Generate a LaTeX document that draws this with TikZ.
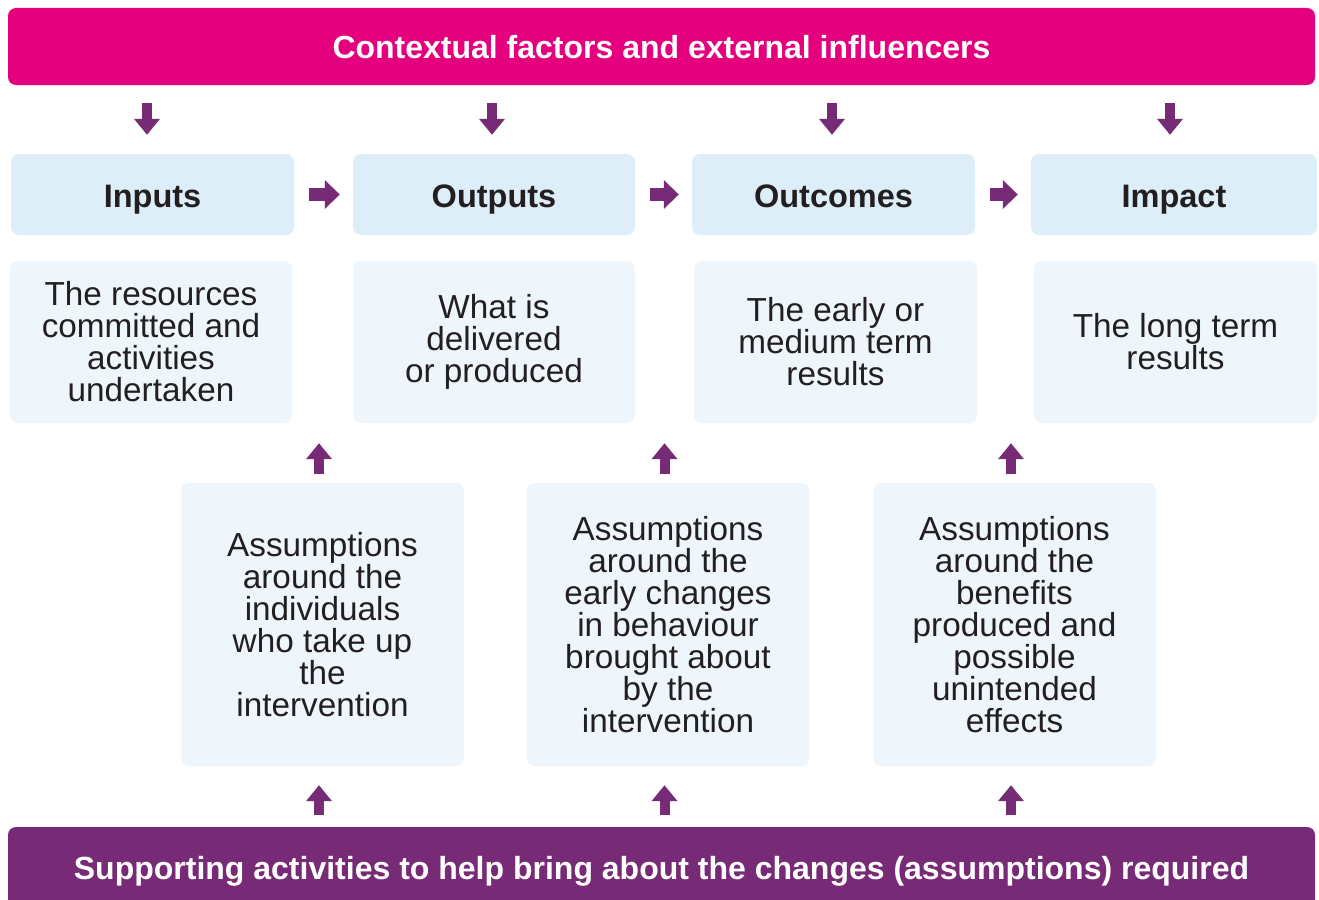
\documentclass[tikz,border=0pt]{standalone}
\usepackage{fontspec}
\setmainfont{Liberation Sans}
\usetikzlibrary{arrows.meta,calc}
\definecolor{pinkbar}{HTML}{E5007D}
\definecolor{purp}{HTML}{772A75}
\definecolor{hdrblue}{HTML}{DDEEF9}
\definecolor{descblue}{HTML}{EEF6FC}
\definecolor{ink}{HTML}{231F20}
\begin{document}
\begin{tikzpicture}[x=1pt,y=-1pt,
 bar/.style={rounded corners=8pt, minimum width=1307pt, text=white, font=\fontsize{32}{32}\selectfont\bfseries, inner sep=0pt, text depth=0pt},
 hdr/.style={fill=hdrblue, rounded corners=8pt, minimum height=81pt, text=ink, font=\fontsize{32.5}{32}\selectfont\bfseries, inner sep=0pt, text height=26.4pt, text depth=0pt},
 desc/.style={fill=descblue, rounded corners=8pt, minimum height=162pt, text=ink, align=center, font=\fontsize{33.3}{32}\selectfont, inner sep=0pt},
 asm/.style={fill=descblue, rounded corners=8pt, minimum width=283pt, minimum height=283pt, text=ink, align=center, font=\fontsize{33.3}{32}\selectfont, inner sep=0pt},
 barrow/.style={draw=purp, line width=10pt, -{Triangle[length=16pt,width=25pt]}},
 harrow/.style={draw=purp, line width=13pt, -{Triangle[length=15pt,width=28pt]}}]
\useasboundingbox (0,0) rectangle (1319,899);
% bars
\node[bar, fill=pinkbar, minimum height=77pt, text height=23.6pt] (top) at (661.5,46.5) {Contextual factors and external influencers};
\node[bar, fill=purp, minimum height=82pt, text height=22pt] (sup) at (661.5,868) {Supporting activities to help bring about the changes (assumptions) required};
% headers
\node[hdr, minimum width=283pt] (h1) at (152.5,194.5) {Inputs};
\node[hdr, minimum width=282pt] (h2) at (494,194.5) {Outputs};
\node[hdr, minimum width=283pt] (h3) at (833.5,194.5) {Outcomes};
\node[hdr, minimum width=286pt] (h4) at (1174,194.5) {Impact};
% descriptions
\node[desc, minimum width=282pt] (d1) at (151,342) {The resources\\committed and\\activities\\undertaken};
\node[desc, minimum width=282pt] (d2) at (494,342) {What is\\delivered\\or produced};
\node[desc, minimum width=283pt] (d3) at (835.5,342) {The early or\\medium term\\results};
\node[desc, minimum width=283pt] (d4) at (1175.5,342) {The long term\\results};
% assumptions
\node[asm] (a1) at (322.5,624.5) {Assumptions\\around the\\individuals\\who take up\\the\\intervention};
\node[asm] (a2) at (668,624.5) {Assumptions\\around the\\early changes\\in behaviour\\brought about\\by the\\intervention};
\node[asm] (a3) at (1014.5,624.5) {Assumptions\\around the\\benefits\\produced and\\possible\\unintended\\effects};
% down arrows from top bar
\foreach \h/\dx in {h1/-5.5,h2/-2,h3/-1.5,h4/-4}{
  \draw[barrow, shorten <=18pt, shorten >=19pt] ([xshift=\dx pt]\h.north |- top.south) -- ([xshift=\dx pt]\h.north);
}
% horizontal arrows
\draw[harrow, shorten <=15pt, shorten >=13pt] (h1.east) -- (h2.west);
\draw[harrow, shorten <=15pt, shorten >=13pt] (h2.east) -- (h3.west);
\draw[harrow, shorten <=15pt, shorten >=13pt] (h3.east) -- (h4.west);
% up arrows from assumptions
\foreach \a in {a1,a2,a3}{
  \draw[barrow, shorten <=9pt, shorten >=20pt] ([xshift=-3.5pt]\a.north) -- ([xshift=-3.5pt]\a.north |- d1.south);
  \draw[barrow, shorten <=12pt, shorten >=19pt] ([xshift=-3.5pt]\a.south |- sup.north) -- ([xshift=-3.5pt]\a.south);
}
\end{tikzpicture}
\end{document}
